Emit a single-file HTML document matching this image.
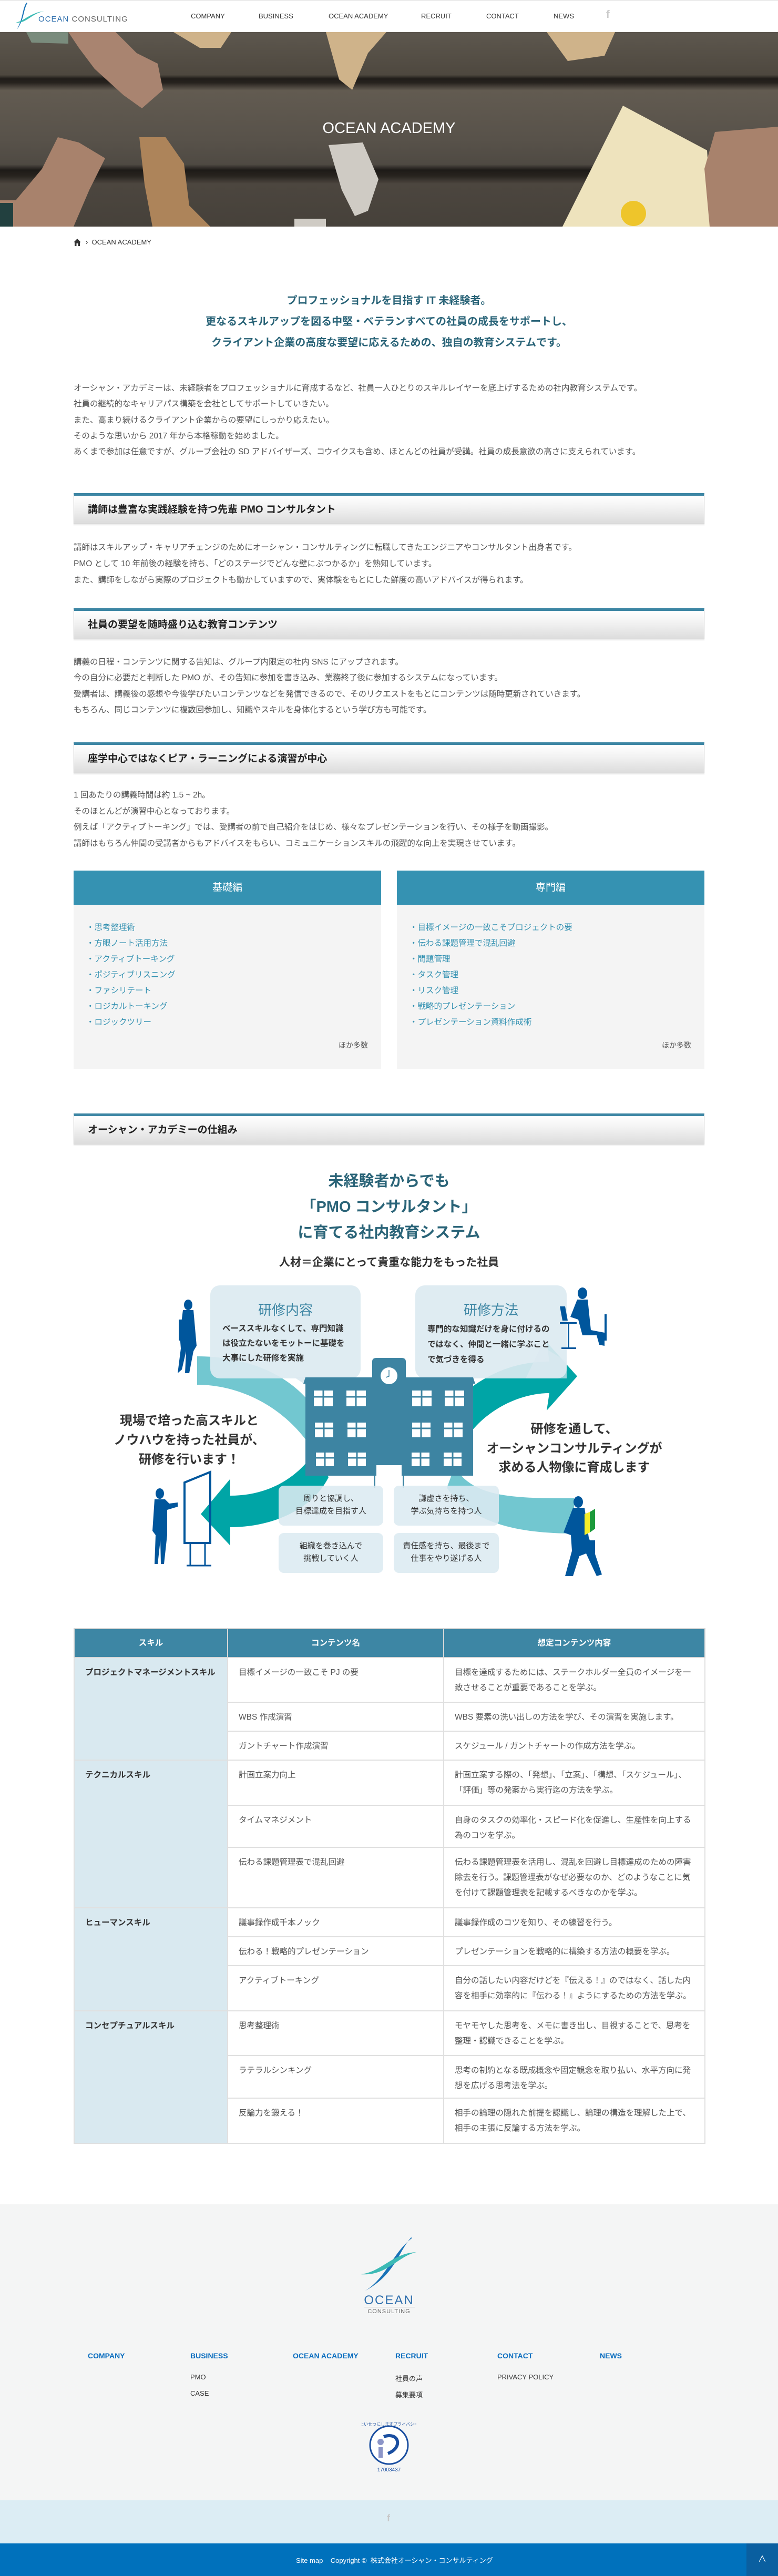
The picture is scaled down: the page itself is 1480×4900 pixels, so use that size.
<!DOCTYPE html>
<html><head><meta charset="utf-8">
<style>
*{margin:0;padding:0;box-sizing:border-box}
body{width:1480px;height:4900px;position:relative;background:#fff;font-family:"Liberation Sans","Noto Sans CJK JP",sans-serif;color:#555;overflow:hidden}
.a{position:absolute}
.nav{font-size:13px;color:#333;top:24px;line-height:14px}
.p{left:140px;font-size:15.5px;color:#555;white-space:nowrap}
.h{left:140px;width:1200px;height:59px;border:1px solid #d3d3d3;border-top:5px solid #3d86a4;background:linear-gradient(#fff,#f3f3f3 40%,#dcdcdc);box-shadow:0 2px 2px rgba(0,0,0,.08)}
.h span{position:absolute;left:26px;top:15px;font-size:19px;font-weight:bold;color:#222;line-height:24px;white-space:nowrap}
.box{width:585px;height:377px;background:#f4f4f4}
.box .hd{height:65px;background:#3592b2;color:#fff;font-size:19px;text-align:center;line-height:65px}
.box ul{list-style:none;position:absolute;left:32px;top:94px;font-size:15.5px;color:#3592b2;line-height:30px}
.box ul li:before{content:"・";margin-left:-8px}
.box .more{position:absolute;right:25px;top:322px;font-size:14px;color:#555}
table{border-collapse:collapse;position:absolute;left:140px;top:3097px;width:1200px;table-layout:fixed}
td,th{border:2px solid #e0e0e0;vertical-align:top;font-size:15.5px;line-height:29px;color:#555;padding:13px 18px 0 20px;text-align:left;font-weight:normal}
th{background:#3d86a4;color:#fff;font-weight:bold;text-align:center;vertical-align:middle;padding:0;height:55px;border-color:#d7d7d7}
td.s{background:#d9e9f0;font-weight:bold;color:#333;padding-left:20px}
.ft{font-size:14px;font-weight:bold;color:#0a6dbf;top:4473px}
.fs{font-size:13px;color:#333}
.dt{font-size:15.5px;color:#333;text-align:center;line-height:28px;white-space:nowrap}
</style></head><body>

<!-- header -->
<div class="a" style="left:0;top:0;width:1480px;height:1px;background:#ddd"></div>
<svg class="a" style="left:28px;top:5px" width="60" height="52" viewBox="0 0 60 52"><path d="M22,0 C14,14 16,30 4,51 C18,34 16,14 24,1Z" fill="#1a73b8"/><path d="M2,38 C20,34 28,20 56,16 C30,22 22,40 2,38Z" fill="#3cbab5"/></svg>
<div class="a" style="left:73px;top:28px;font-size:15px;letter-spacing:1px;white-space:nowrap"><span style="color:#2f6fad">OCEAN</span> <span style="color:#666">CONSULTING</span></div>
<div class="a nav" style="left:363px">COMPANY</div>
<div class="a nav" style="left:492px">BUSINESS</div>
<div class="a nav" style="left:625px">OCEAN ACADEMY</div>
<div class="a nav" style="left:801px">RECRUIT</div>
<div class="a nav" style="left:925px">CONTACT</div>
<div class="a nav" style="left:1053px">NEWS</div>
<div class="a" style="left:1153px;top:17px;font-size:20px;color:#ccc;font-weight:bold">f</div>

<!-- hero -->
<div class="a" style="left:0;top:61px;width:1480px;height:370px;background:linear-gradient(180deg,#5d574e 0%,#4e483f 22%,#1f1c19 24%,#26221e 26%,#625b51 30%,#58524a 55%,#4f4a43 68%,#1d1a17 71%,#28241f 74%,#4c463f 78%,#46413a 100%)"></div>
<svg class="a" style="left:0;top:61px" width="1480" height="370">
<path d="M50,0 L130,0 L130,22 L60,20Z" fill="#7a8c7d"/>
<path d="M130,0 L220,0 L260,40 L300,60 L310,110 L270,145 L235,120 L180,70 L150,30Z" fill="#a98470"/>
<path d="M330,0 L440,0 L420,30 L380,30Z" fill="#cfb38a"/>
<path d="M620,0 L735,0 L700,40 L670,110 L645,90Z" fill="#cfb38a"/>
<path d="M1040,0 L1170,0 L1150,45 L1080,55Z" fill="#cfb38a"/>
<path d="M0,320 L30,320 L80,260 L110,200 L150,210 L200,240 L170,300 L140,370 L0,370Z" fill="#a8826c"/>
<path d="M0,325 L25,325 L25,370 L0,370Z" fill="#22403f"/>
<path d="M265,200 L315,200 L350,250 L360,330 L400,370 L290,370 L275,290Z" fill="#ad845a"/>
<path d="M625,215 L690,210 L720,280 L700,340 L675,350 L650,300Z" fill="#cfcbc4"/>
<path d="M560,355 L620,355 L620,370 L560,370Z" fill="#cfcbc4"/>
<path d="M1185,140 L1345,225 L1355,370 L1070,370Z" fill="#eee3bd"/>
<circle cx="1205" cy="345" r="24" fill="#eec52b"/>
<path d="M1360,190 L1480,180 L1480,370 L1350,370 L1340,260Z" fill="#a8826c"/>
</svg>
<div class="a" style="left:0;top:228px;width:1480px;text-align:center;font-size:29px;color:#fff">OCEAN ACADEMY</div>

<!-- breadcrumb -->
<svg class="a" style="left:140px;top:454px" width="14" height="14" viewBox="0 0 14 14"><path d="M7,0 L14,7 L12,7 L12,14 L8.5,14 L8.5,9 L5.5,9 L5.5,14 L2,14 L2,7 L0,7Z" fill="#333"/></svg>
<div class="a" style="left:163px;top:453px;font-size:13px;color:#333;white-space:nowrap">›&nbsp;&nbsp;OCEAN ACADEMY</div>

<!-- lead -->
<div class="a" style="left:0;top:552px;width:1480px;text-align:center;font-size:20px;font-weight:bold;color:#2a6478;line-height:40px">プロフェッショナルを目指す IT 未経験者。<br>更なるスキルアップを図る中堅・ベテランすべての社員の成長をサポートし、<br>クライアント企業の高度な要望に応えるための、独自の教育システムです。</div>

<div class="a p" style="top:724px;line-height:30.3px">オーシャン・アカデミーは、未経験者をプロフェッショナルに育成するなど、社員一人ひとりのスキルレイヤーを底上げするための社内教育システムです。<br>社員の継続的なキャリアパス構築を会社としてサポートしていきたい。<br>また、高まり続けるクライアント企業からの要望にしっかり応えたい。<br>そのような思いから 2017 年から本格稼動を始めました。<br>あくまで参加は任意ですが、グループ会社の SD アドバイザーズ、コウイクスも含め、ほとんどの社員が受講。社員の成長意欲の高さに支えられています。</div>

<div class="a h" style="top:938px"><span>講師は豊富な実践経験を持つ先輩 PMO コンサルタント</span></div>
<div class="a p" style="top:1026px;line-height:31px">講師はスキルアップ・キャリアチェンジのためにオーシャン・コンサルティングに転職してきたエンジニアやコンサルタント出身者です。<br>PMO として 10 年前後の経験を持ち、「どのステージでどんな壁にぶつかるか」を熟知しています。<br>また、講師をしながら実際のプロジェクトも動かしていますので、実体験をもとにした鮮度の高いアドバイスが得られます。</div>

<div class="a h" style="top:1157px"><span>社員の要望を随時盛り込む教育コンテンツ</span></div>
<div class="a p" style="top:1245px;line-height:30.3px">講義の日程・コンテンツに関する告知は、グループ内限定の社内 SNS にアップされます。<br>今の自分に必要だと判断した PMO が、その告知に参加を書き込み、業務終了後に参加するシステムになっています。<br>受講者は、講義後の感想や今後学びたいコンテンツなどを発信できるので、そのリクエストをもとにコンテンツは随時更新されていきます。<br>もちろん、同じコンテンツに複数回参加し、知識やスキルを身体化するという学び方も可能です。</div>

<div class="a h" style="top:1412px"><span>座学中心ではなくピア・ラーニングによる演習が中心</span></div>
<div class="a p" style="top:1498px;line-height:30.5px">1 回あたりの講義時間は約 1.5 ~ 2h。<br>そのほとんどが演習中心となっております。<br>例えば「アクティブトーキング」では、受講者の前で自己紹介をはじめ、様々なプレゼンテーションを行い、その様子を動画撮影。<br>講師はもちろん仲間の受講者からもアドバイスをもらい、コミュニケーションスキルの飛躍的な向上を実現させています。</div>

<!-- boxes -->
<div class="a box" style="left:140px;top:1656px"><div class="hd">基礎編</div>
<ul><li>思考整理術</li><li>方眼ノート活用方法</li><li>アクティブトーキング</li><li>ポジティブリスニング</li><li>ファシリテート</li><li>ロジカルトーキング</li><li>ロジックツリー</li></ul><div class="more">ほか多数</div></div>
<div class="a box" style="left:755px;top:1656px"><div class="hd">専門編</div>
<ul><li>目標イメージの一致こそプロジェクトの要</li><li>伝わる課題管理で混乱回避</li><li>問題管理</li><li>タスク管理</li><li>リスク管理</li><li>戦略的プレゼンテーション</li><li>プレゼンテーション資料作成術</li></ul><div class="more">ほか多数</div></div>

<div class="a h" style="top:2118px"><span>オーシャン・アカデミーの仕組み</span></div>

<!-- diagram -->
<div class="a" style="left:0;top:2223px;width:1480px;text-align:center;font-size:29px;font-weight:bold;color:#2a6478;line-height:49px">未経験者からでも<br>「PMO コンサルタント」<br>に育てる社内教育システム</div>
<div class="a" style="left:0;top:2385px;width:1480px;text-align:center;font-size:21px;color:#333;font-weight:bold">人材＝企業にとって貴重な能力をもった社員</div>

<svg class="a" style="left:0;top:2400px" width="1480" height="620" viewBox="0 2400 1480 620">
<path d="M375,2580 C470,2580 560,2615 605,2690 L605,2775 C560,2690 470,2634 375,2634Z" fill="#72c7d0"/>
<path d="M865,2790 C900,2850 980,2850 1092,2850 L1092,2917 C980,2917 895,2895 850,2830Z" fill="#72c7d0"/>
<path d="M895,2640 C950,2600 1000,2590 1045,2590 L1040,2553 L1098,2618 L1040,2683 L1045,2650 C990,2650 930,2680 895,2725Z" fill="#00a5a6"/>
<path d="M600,2760 C560,2820 500,2845 438,2845 L438,2813 L382,2880 L438,2940 L438,2905 C520,2905 595,2870 625,2810Z" fill="#00a5a6"/>
<rect x="400" y="2445" width="286" height="177" rx="18" fill="#dceaf1" fill-opacity="0.92"/>
<path d="M560,2620 L640,2622 L620,2660Z" fill="#dceaf1" fill-opacity="0.9"/>
<rect x="790" y="2445" width="288" height="177" rx="18" fill="#dceaf1" fill-opacity="0.92"/>
<path d="M1030,2560 L1078,2590 L1078,2622 L1000,2622Z" fill="#dceaf1" fill-opacity="0.7"/>
<path d="M708,2590 Q708,2583 716,2583 L764,2583 Q772,2583 772,2590 L772,2620 L900,2620 L904,2632 L900,2632 L900,2807 L581,2807 L581,2632 L577,2632 L581,2620 L708,2620Z" fill="#3d84a2"/>
<circle cx="740" cy="2617" r="16" fill="#fff"/>
<path d="M740,2606 L740,2618 L734,2620" stroke="#3d84a2" stroke-width="1.5" fill="none"/>
<rect x="716" y="2787" width="48" height="25" fill="#fff"/>
<rect x="711" y="2800" width="3" height="30" fill="#3d84a2"/><rect x="766" y="2800" width="3" height="30" fill="#3d84a2"/>
<g fill="#fff">
<rect x="597" y="2645" width="36" height="30"/><rect x="659" y="2645" width="37" height="30"/><rect x="784" y="2645" width="37" height="30"/><rect x="846" y="2645" width="37" height="30"/>
<rect x="599" y="2706" width="35" height="28"/><rect x="661" y="2706" width="35" height="28"/><rect x="784" y="2706" width="35" height="28"/><rect x="845" y="2706" width="35" height="28"/>
<rect x="601" y="2763" width="34" height="26"/><rect x="662" y="2763" width="34" height="26"/><rect x="783" y="2763" width="34" height="26"/><rect x="844" y="2763" width="34" height="26"/>
</g>
<g stroke="#3d84a2" stroke-width="3">
<path d="M615,2645V2675M597,2657H633M677,2645V2675M659,2657H696M802,2645V2675M784,2657H821M864,2645V2675M846,2657H883"/>
<path d="M616,2706V2734M599,2717H634M678,2706V2734M661,2717H696M801,2706V2734M784,2717H819M862,2706V2734M845,2717H880"/>
<path d="M618,2763V2789M601,2773H635M679,2763V2789M662,2773H696M800,2763V2789M783,2773H817M861,2763V2789M844,2773H878"/>
</g>
<g fill="#dceaf1" fill-opacity="0.88">
<rect x="530" y="2826" width="199" height="76" rx="10"/><rect x="749" y="2826" width="200" height="76" rx="10"/>
<rect x="530" y="2916" width="199" height="76" rx="10"/><rect x="749" y="2916" width="200" height="76" rx="10"/>
</g>
<g fill="#00569c">
<ellipse cx="358" cy="2482" rx="8" ry="10"/>
<path d="M348,2492 L368,2492 L374,2560 L368,2570 L360,2612 L352,2612 L354,2570 L346,2605 L338,2612 L344,2565 L342,2540 Z"/>
<rect x="340" y="2510" width="6" height="40"/>
<ellipse cx="1108" cy="2460" rx="9" ry="11"/>
<path d="M1098,2472 L1118,2472 L1124,2530 L1150,2535 L1150,2560 L1140,2558 L1135,2540 L1108,2540 L1100,2510 L1085,2505 Z"/>
<rect x="1065" y="2515" width="32" height="3"/><rect x="1080" y="2515" width="3" height="50"/><rect x="1068" y="2563" width="28" height="3"/>
<rect x="1150" y="2500" width="4" height="50"/>
<path d="M1065,2485 L1075,2485 L1080,2512 L1070,2512Z"/>
<ellipse cx="304" cy="2841" rx="8" ry="10"/>
<path d="M294,2852 L314,2852 L322,2860 L338,2858 L338,2866 L318,2872 L318,2920 L312,2975 L306,2975 L305,2930 L300,2975 L294,2975 L296,2920 L290,2912 Z"/>
<path d="M351,2820 L400,2800 L400,2935 L351,2935Z" fill="none" stroke="#00569c" stroke-width="4"/>
<path d="M362,2935 V2978 M390,2935 V2978 M355,2978 H402" stroke="#00569c" stroke-width="3"/>
<ellipse cx="1100" cy="2857" rx="9" ry="11"/>
<path d="M1090,2868 L1112,2868 L1120,2925 L1130,2950 L1145,2995 L1135,2998 L1115,2955 L1102,2960 L1090,2998 L1075,2998 L1088,2950 L1086,2920 L1072,2915 Z"/>
<path d="M1112,2880 L1122,2876 L1122,2915 L1112,2920Z" fill="#f4ee2a"/><path d="M1122,2876 L1132,2870 L1132,2908 L1122,2915Z" fill="#1c9a3b"/>
<rect x="1118" y="2930" width="14" height="25"/>
</g>
</svg>
<div class="a" style="left:400px;top:2472px;width:286px;text-align:center;font-size:26px;color:#3d86a4">研修内容</div>
<div class="a dt" style="left:400px;top:2514px;width:286px;text-align:left;padding-left:23px;font-weight:bold">ベーススキルなくして、専門知識<br>は役立たないをモットーに基礎を<br>大事にした研修を実施</div>
<div class="a" style="left:790px;top:2472px;width:288px;text-align:center;font-size:26px;color:#3d86a4">研修方法</div>
<div class="a dt" style="left:790px;top:2514px;width:288px;text-align:left;padding-left:23px;font-weight:bold;line-height:29px">専門的な知識だけを身に付けるの<br>ではなく、仲間と一緒に学ぶこと<br>で気づきを得る</div>
<div class="a" style="left:200px;top:2684px;width:320px;text-align:center;font-size:24px;font-weight:bold;color:#333;line-height:37px;white-space:nowrap">現場で培った高スキルと<br>ノウハウを持った社員が、<br>研修を行います！</div>
<div class="a" style="left:920px;top:2701px;width:345px;text-align:center;font-size:24px;font-weight:bold;color:#333;line-height:36.5px;white-space:nowrap">研修を通して、<br>オーシャンコンサルティングが<br>求める人物像に育成します</div>
<div class="a dt" style="left:530px;top:2839px;width:199px;font-size:15px;line-height:24px">周りと協調し、<br>目標達成を目指す人</div>
<div class="a dt" style="left:749px;top:2839px;width:200px;font-size:15px;line-height:24px">謙虚さを持ち、<br>学ぶ気持ちを持つ人</div>
<div class="a dt" style="left:530px;top:2929px;width:199px;font-size:15px;line-height:24px">組織を巻き込んで<br>挑戦していく人</div>
<div class="a dt" style="left:749px;top:2929px;width:200px;font-size:15px;line-height:24px">責任感を持ち、最後まで<br>仕事をやり遂げる人</div>

<!-- table -->
<table>
<colgroup><col style="width:292px"><col style="width:411px"><col style="width:497px"></colgroup>
<tr><th>スキル</th><th>コンテンツ名</th><th>想定コンテンツ内容</th></tr>
<tr style="height:85px"><td class="s" rowspan="3">プロジェクトマネージメントスキル</td><td>目標イメージの一致こそ PJ の要</td><td>目標を達成するためには、ステークホルダー全員のイメージを一致させることが重要であることを学ぶ。</td></tr>
<tr style="height:55px"><td>WBS 作成演習</td><td>WBS 要素の洗い出しの方法を学び、その演習を実施します。</td></tr>
<tr style="height:55px"><td>ガントチャート作成演習</td><td>スケジュール / ガントチャートの作成方法を学ぶ。</td></tr>
<tr style="height:86px"><td class="s" rowspan="3">テクニカルスキル</td><td>計画立案力向上</td><td>計画立案する際の、「発想」、「立案」、「構想、「スケジュール」、「評価」等の発案から実行迄の方法を学ぶ。</td></tr>
<tr style="height:80px"><td>タイムマネジメント</td><td>自身のタスクの効率化・スピード化を促進し、生産性を向上する為のコツを学ぶ。</td></tr>
<tr style="height:115px"><td>伝わる課題管理表で混乱回避</td><td>伝わる課題管理表を活用し、混乱を回避し目標達成のための障害除去を行う。課題管理表がなぜ必要なのか、どのようなことに気を付けて課題管理表を記載するべきなのかを学ぶ。</td></tr>
<tr style="height:55px"><td class="s" rowspan="3">ヒューマンスキル</td><td>議事録作成千本ノック</td><td>議事録作成のコツを知り、その練習を行う。</td></tr>
<tr style="height:55px"><td>伝わる！戦略的プレゼンテーション</td><td>プレゼンテーションを戦略的に構築する方法の概要を学ぶ。</td></tr>
<tr style="height:86px"><td>アクティブトーキング</td><td>自分の話したい内容だけどを『伝える！』のではなく、話した内容を相手に効率的に『伝わる！』ようにするための方法を学ぶ。</td></tr>
<tr style="height:85px"><td class="s" rowspan="3">コンセプチュアルスキル</td><td>思考整理術</td><td>モヤモヤした思考を、メモに書き出し、目視することで、思考を整理・認識できることを学ぶ。</td></tr>
<tr style="height:81px"><td>ラテラルシンキング</td><td>思考の制約となる既成概念や固定観念を取り払い、水平方向に発想を広げる思考法を学ぶ。</td></tr>
<tr style="height:86px"><td>反論力を鍛える！</td><td>相手の論理の隠れた前提を認識し、論理の構造を理解した上で、相手の主張に反論する方法を学ぶ。</td></tr>
</table>

<!-- footer -->
<div class="a" style="left:0;top:4193px;width:1480px;height:563px;background:#f4f5f5"></div>
<svg class="a" style="left:686px;top:4256px" width="110" height="104" viewBox="0 0 110 104"><path d="M96,0 C70,30 66,70 8,102 C50,76 60,30 98,1Z" fill="#1a73b8"/><path d="M0,70 C40,66 60,30 106,28 C70,36 50,74 0,70Z" fill="#3cbab5"/></svg>
<div class="a" style="left:680px;top:4362px;width:120px;text-align:center;font-size:24px;color:#2f6fad;letter-spacing:2px">OCEAN</div>
<div class="a" style="left:693px;top:4388px;width:96px;height:1px;background:#bbb"></div>
<div class="a" style="left:680px;top:4391px;width:120px;text-align:center;font-size:11px;color:#666;letter-spacing:1px">CONSULTING</div>
<div class="a ft" style="left:167px">COMPANY</div>
<div class="a ft" style="left:362px">BUSINESS</div>
<div class="a ft" style="left:557px">OCEAN ACADEMY</div>
<div class="a ft" style="left:752px">RECRUIT</div>
<div class="a ft" style="left:946px">CONTACT</div>
<div class="a ft" style="left:1141px">NEWS</div>
<div class="a fs" style="left:362px;top:4514px">PMO</div>
<div class="a fs" style="left:362px;top:4545px">CASE</div>
<div class="a fs" style="left:752px;top:4514px">社員の声</div>
<div class="a fs" style="left:752px;top:4545px">募集要項</div>
<div class="a fs" style="left:946px;top:4514px">PRIVACY POLICY</div>
<svg class="a" style="left:688px;top:4605px" width="104" height="98" viewBox="0 0 104 98"><circle cx="52" cy="46" r="36" fill="#fff" stroke="#1a4ea0" stroke-width="3"/><circle cx="36" cy="40" r="6" fill="#8c95c8"/><rect x="32" y="50" width="8" height="20" fill="#8c95c8"/><path d="M42,30 C70,20 80,50 50,62" stroke="#1a4ea0" stroke-width="6" fill="none"/><text x="52" y="96" font-size="10" fill="#1a4ea0" text-anchor="middle" font-family="Liberation Sans">17003437</text><text x="52" y="9" font-size="8" fill="#1a4ea0" text-anchor="middle" font-family="Noto Sans CJK JP">たいせつにしますプライバシー</text></svg>
<div class="a" style="left:0;top:4756px;width:1480px;height:82px;background:#dcedf4"></div>
<div class="a" style="left:736px;top:4780px;font-size:18px;color:#c8c8c8;font-weight:bold">f</div>
<div class="a" style="left:0;top:4838px;width:1480px;height:62px;background:#0071bc"></div>
<div class="a" style="left:563px;top:4860px;font-size:13px;color:#fff;white-space:nowrap">Site map&nbsp;&nbsp;&nbsp;&nbsp;Copyright ©&nbsp;&nbsp;株式会社オーシャン・コンサルティング</div>
<div class="a" style="left:1420px;top:4838px;width:60px;height:62px;background:#0a5fa0;color:#fff;text-align:center;line-height:62px;font-size:16px">∧</div>
</body></html>
